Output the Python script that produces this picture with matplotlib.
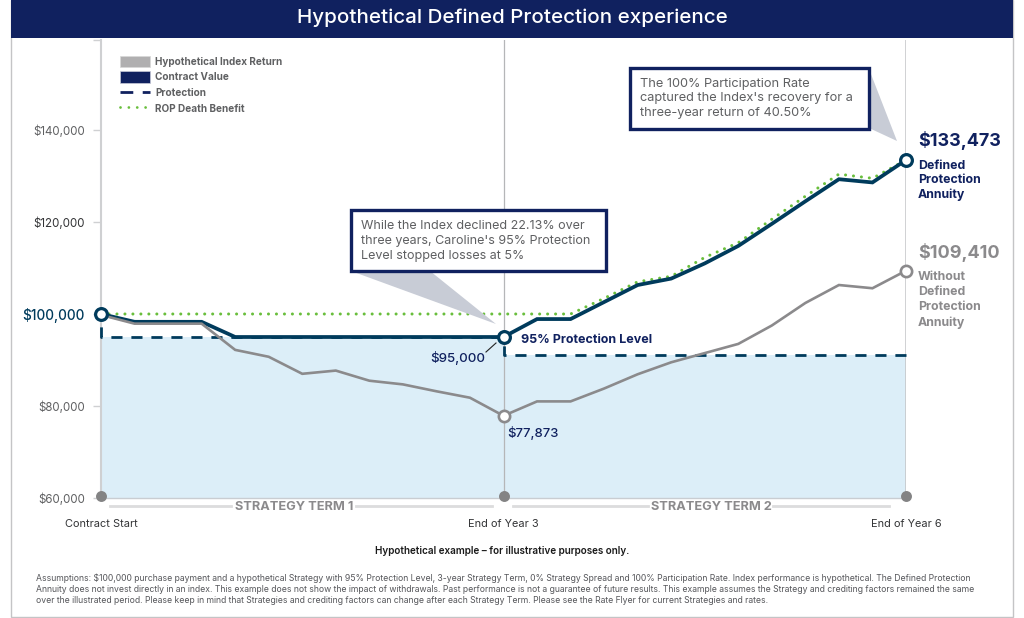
import matplotlib
matplotlib.use('Agg')
import matplotlib.pyplot as plt
from matplotlib.lines import Line2D
from matplotlib.patches import Patch, Polygon, Rectangle

W, H = 1024, 618
NAVY = '#10215f'
TEAL = '#003b5c'
GRAY = '#8b8a8c'
GREEN = '#69be3c'
TEXT = '#5f6062'

plt.rcParams['font.family'] = ['Inter', 'DejaVu Sans']

quarters = list(range(25))
index_return = [99800, 97900, 97900, 97900, 92200, 90700, 87000, 87700, 85500, 84700, 83200, 81800, 77873,
                81000, 81000, 83800, 86900, 89500, 91500, 93500, 97500, 102400, 106300, 105600, 109410]
contract_value = [100000, 98300, 98300, 98300, 95000, 95000, 95000, 95000, 95000, 95000, 95000, 95000, 95000,
                  98900, 98900, 102600, 106300, 107700, 111000, 114800, 119600, 124500, 129300, 128600, 133473]
rop_benefit = [100000, 100000, 100000, 100000, 100000, 100000, 100000, 100000, 100000, 100000, 100000, 100000, 100000,
               100000, 100000, 103400, 107000, 108200, 112300, 115500, 120600, 125600, 130400, 129500, 133473]
protection_x = [0, 0, 12, 12, 24]
protection_y = [100000, 95000, 95000, 91000, 91000]
fill_x = [0, 12, 12, 24]
fill_y = [95000, 95000, 91000, 91000]
y_ticks = [60000, 80000, 100000, 120000, 140000]
y_labels = ['$60,000', '$80,000', '$100,000', '$120,000', '$140,000']
x_names = ['Contract Start', 'End of Year 3', 'End of Year 6']
x_positions = [0, 12, 24]


def px(x, y):
    return x / W, 1 - y / H


def label(x, y, s, **kw):
    kw.setdefault('va', 'center')
    return fig.text(*px(x, y), s, **kw)


def rule(xs, ys, **kw):
    fig.add_artist(Line2D([x / W for x in xs], [1 - y / H for y in ys], **kw))


def callout(box, tri):
    fig.add_artist(Polygon([px(*p) for p in tri], closed=True, transform=fig.transFigure,
                           fc='#c8ccd6', ec='none', zorder=5))
    x0, y0, x1, y1 = box
    fig.add_artist(Rectangle(px(x0, y1), (x1 - x0) / W, (y1 - y0) / H, transform=fig.transFigure,
                             fc='white', ec=NAVY, lw=2.4, zorder=6))


fig = plt.figure(figsize=(W / 100, H / 100), dpi=100)
ax = fig.add_axes([101 / W, 1 - 498 / H, (906 - 101) / W, (498 - 40) / H])

# frame and banner
fig.add_artist(Rectangle(px(11, 617), 1002 / W, 617 / H, transform=fig.transFigure, fc='none', ec='#c4c4c6', lw=1))
fig.add_artist(Rectangle(px(11, 38), 1002 / W, 38 / H, transform=fig.transFigure, fc=NAVY, ec='none'))
label(512, 18, 'Hypothetical Defined Protection experience', color='white', fontsize=14.8, fontweight='medium',
      ha='center')

ax.set_xlim(0, 24)
ax.set_ylim(60000, 159565)
ax.fill_between(fill_x, fill_y, 60000, color='#dceef8', lw=0, zorder=1)
ax.axvline(12, color='#b5b6b8', lw=0.9, zorder=2)
ax.axvline(24, color='#c4c5c7', lw=1.1, zorder=2)

# the protection line is split at the term change so each corner carries a dash
ax.plot(protection_x[:3], protection_y[:3], color=TEAL, lw=2, linestyle=(2.56, (4, 3.2)), zorder=3, clip_on=False)
ax.plot(protection_x[2:], protection_y[2:], color=TEAL, lw=2, linestyle=(4, (4, 3.2)), zorder=3, clip_on=False)
ax.plot(quarters, rop_benefit, color=GREEN, lw=2.2, dashes=(0.01, 2.6), dash_capstyle='round', zorder=3)
ax.plot(quarters, contract_value, color=TEAL, lw=2.7, zorder=4, solid_joinstyle='miter')
ax.plot(quarters, index_return, color=GRAY, lw=1.9, zorder=5, solid_joinstyle='miter')

ax.scatter([0, 12, 24], [100000, 95000, 133473], s=72, fc='white', ec=TEAL, lw=2.3, zorder=7, clip_on=False)
ax.scatter([12, 24], [77873, 109410], s=66, fc='white', ec=GRAY, lw=1.9, zorder=7, clip_on=False)
ax.scatter(x_positions, [60500] * 3, s=62, color='#838384', lw=0, zorder=7, clip_on=False)

for side in ['top', 'right']:
    ax.spines[side].set_visible(False)
ax.spines['left'].set_color('#cfd0d2')
ax.spines['left'].set_linewidth(1.5)
ax.spines['bottom'].set_color('#c9cdd2')
ax.spines['bottom'].set_linewidth(1)

ax.set_yticks(y_ticks + [159565], y_labels + [''])
ax.tick_params(axis='y', length=5.5, width=1, color='#cfd0d2', pad=6, labelsize=8.3, labelcolor=TEXT)
ax.get_yticklabels()[2].set_color(TEAL)
ax.get_yticklabels()[2].set_fontsize(9.8)
ax.get_yticklabels()[2].set_fontweight('medium')
ax.get_yticklabels()[3].set_color('#333436')
ax.set_xticks(x_positions, x_names)
ax.tick_params(axis='x', length=0, pad=15, labelsize=7.9, labelcolor='#333436')

legend_handles = [Patch(fc='#b0afb0', ec='#d8d8d8', lw=0.5), Patch(fc=NAVY, ec='#c8cbd8', lw=0.5),
                  Line2D([], [], color=NAVY, lw=2, dashes=(4.6, 3.4)),
                  Line2D([], [], color=GREEN, lw=2, dashes=(0.01, 3), dash_capstyle='round')]
legend_names = ['Hypothetical Index Return', 'Contract Value', 'Protection', 'ROP Death Benefit']
leg = ax.legend(legend_handles, legend_names, loc='upper left', bbox_to_anchor=(19 / 805, (498 - 55.5) / 458),
                frameon=False, handlelength=3.0, handleheight=1.4, handletextpad=0.5,
                labelspacing=0.42, borderpad=0, borderaxespad=0, prop={'weight': 'bold', 'size': 7.2})
for t in leg.get_texts():
    t.set_color(TEXT)

# callouts
callout((351, 210, 606, 271), [(351, 271), (430, 271), (496, 324)])
callout((630, 68, 869, 129), [(869, 69), (869, 128), (897, 141)])
label(361, 241, "While the Index declined 22.13% over\nthree years, Caroline's 95% Protection\nLevel stopped losses at 5%",
      color=TEXT, fontsize=9.05, linespacing=1.3, zorder=8)
label(640, 98.5, "The 100% Participation Rate\ncaptured the Index's recovery for a\nthree-year return of 40.50%",
      color=TEXT, fontsize=9.2, linespacing=1.28, zorder=8)

# value labels
label(918, 141, '$133,473', color=NAVY, fontsize=13, fontweight='bold')
label(918, 180.5, 'Defined\nProtection\nAnnuity', color=NAVY, fontsize=8.9, fontweight='bold', linespacing=1.2)
label(918, 300, 'Without\nDefined\nProtection\nAnnuity', color=GRAY, fontsize=8.9, fontweight='bold', linespacing=1.32)
label(918, 253, '$109,410', color=GRAY, fontsize=13, fontweight='bold')
label(521, 340, '95% Protection Level', color=NAVY, fontsize=9, fontweight='bold')
label(430, 358, '$95,000', color=NAVY, fontsize=9.6, fontweight='medium')
label(507, 433, '$77,873', color=NAVY, fontsize=9.4, fontweight='medium')
rule([486, 496], [352, 343], color='#222222', lw=0.8)

# strategy term brackets
rule([110, 231], [506, 506], color='#dcdcdd', lw=2)
rule([356, 492], [506, 506], color='#dcdcdd', lw=2)
rule([513, 648], [506, 506], color='#dcdcdd', lw=2)
rule([773, 889], [506, 506], color='#dcdcdd', lw=2)
label(294, 507, 'STRATEGY TERM 1', color=GRAY, fontsize=9.2, fontweight='bold', ha='center')
label(711, 507, 'STRATEGY TERM 2', color=GRAY, fontsize=9.2, fontweight='bold', ha='center')

# footnotes
label(502, 551, 'Hypothetical example \u2013 for illustrative purposes only.', color='#1a1a1a', fontsize=7.15,
      fontweight='semibold', ha='center')
label(36, 589.5, 'Assumptions: $100,000 purchase payment and a hypothetical Strategy with 95% Protection Level, 3-year Strategy '
      'Term, 0% Strategy Spread and 100% Participation Rate. Index performance is hypothetical. The Defined Protection\n'
      'Annuity does not invest directly in an index. This example does not show the impact of withdrawals. Past performance '
      'is not a guarantee of future results. This example assumes the Strategy and crediting factors remained the same\n'
      'over the illustrated period. Please keep in mind that Strategies and crediting factors can change after each Strategy '
      'Term. Please see the Rate Flyer for current Strategies and rates.',
      color='#55565a', fontsize=6.23, linespacing=1.32)

plt.savefig('out.png', dpi=100)
